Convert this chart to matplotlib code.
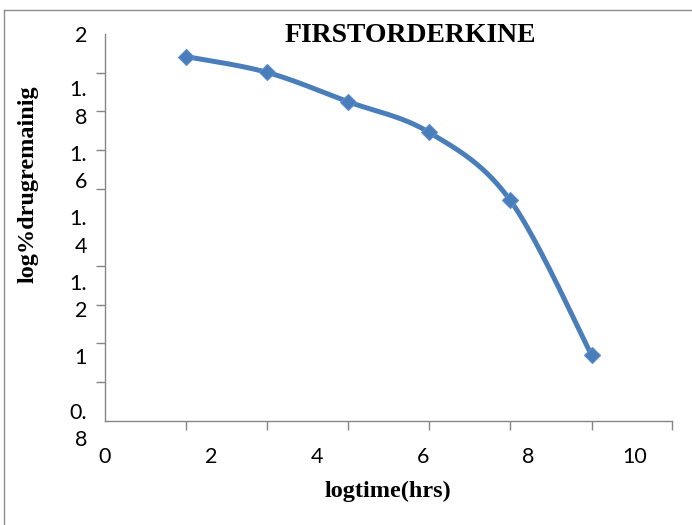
import numpy as np
import matplotlib
matplotlib.use("Agg")
import matplotlib.pyplot as plt
from matplotlib.lines import Line2D

# log time (hrs) vs log % drug remaining
log_time = [1.53, 3.06, 4.59, 6.12, 7.65, 9.19]
log_remaining = [1.930, 1.881, 1.790, 1.695, 1.485, 1.004]

x_ticks = [0, 2, 4, 6, 8, 10]
y_ticks = [2, 1.8, 1.6, 1.4, 1.2, 1, 0.8]
y_tick_labels = ["2", "1.\n8", "1.\n6", "1.\n4", "1.\n2", "1", "0.\n8"]

title = "FIRSTORDERKINE"
x_label = "logtime(hrs)"
y_label = "log%drugremainig"

blue = "#4a7ebb"
axis_grey = "#868686"


def smooth_curve(x, y, n=40):
    # Catmull-Rom spline through the points, like a spreadsheet "smoothed line"
    pts = np.column_stack([x, y])
    pts = np.vstack([pts[0], pts, pts[-1]])
    out = []
    t = np.linspace(0, 1, n)[:, None]
    for i in range(1, len(pts) - 2):
        p0, p1, p2, p3 = pts[i - 1], pts[i], pts[i + 1], pts[i + 2]
        c1 = p1 + (p2 - p0) / 6
        c2 = p2 - (p3 - p1) / 6
        seg = ((1 - t) ** 3) * p1 + 3 * ((1 - t) ** 2) * t * c1 \
            + 3 * (1 - t) * t ** 2 * c2 + t ** 3 * p2
        out.append(seg if i == 1 else seg[1:])
    seg = np.vstack(out)
    return seg[:, 0], seg[:, 1]


fig = plt.figure(figsize=(6.92, 5.25), dpi=100)
ax = fig.add_axes([105 / 692, 1 - 420.7 / 525, 567 / 692, 386.7 / 525])

# outer chart frame: only its left and top edges fall inside the image
fx, fy = 3.5 / 692, 1 - 9.5 / 525
fig.lines.append(Line2D([fx, fx], [0, fy], transform=fig.transFigure,
                        color="#8c8c8c", linewidth=1.0))
fig.lines.append(Line2D([fx, 1], [fy, fy], transform=fig.transFigure,
                        color="#8c8c8c", linewidth=1.0))

sx, sy = smooth_curve(log_time, log_remaining)
ax.plot(sx, sy, color=blue, linewidth=3.6, solid_capstyle="round", zorder=3)
ax.plot(log_time, log_remaining, linestyle="none", marker="D", markersize=8,
        color=blue, markeredgecolor="#5b8ccc", markeredgewidth=0.8, zorder=4)

x_max = log_time[0] * 7
ax.set_xlim(0, x_max)
ax.set_ylim(0.8, 2)

ax.set_xticks(x_ticks)
ax.set_xticklabels([str(v) for v in x_ticks])
ax.set_xticks([0] + log_time + [x_max], minor=True)
ax.set_yticks(y_ticks)
ax.set_yticklabels(y_tick_labels, linespacing=1.45, multialignment="right")
ax.set_yticks(np.linspace(0.8, 2, 11), minor=True)

ax.tick_params(which="major", length=0, labelsize=15.5)
ax.tick_params(axis="x", which="major", pad=19)
ax.tick_params(axis="y", which="major", pad=13)
ax.tick_params(which="minor", length=6.5, width=1.0, color=axis_grey,
               direction="out")
for lbl in ax.get_xticklabels() + ax.get_yticklabels():
    lbl.set_family("Lato")

for side in ("top", "right"):
    ax.spines[side].set_visible(False)
for side in ("left", "bottom"):
    ax.spines[side].set_color(axis_grey)
    ax.spines[side].set_linewidth(1.0)

ax.text(0.538, 0.997, title, transform=ax.transAxes, ha="center", va="center",
        family="Liberation Serif", fontweight="bold", fontsize=20)
fig.text(388 / 692, 1 - 491 / 525, x_label, ha="center", va="center",
         family="Liberation Serif", fontweight="bold", fontsize=17.5)
fig.text(28 / 692, 1 - 184 / 525, y_label, ha="center", va="center",
         rotation=90, family="Liberation Serif", fontweight="bold",
         fontsize=17.5)

fig.savefig("out.png", dpi=100)
